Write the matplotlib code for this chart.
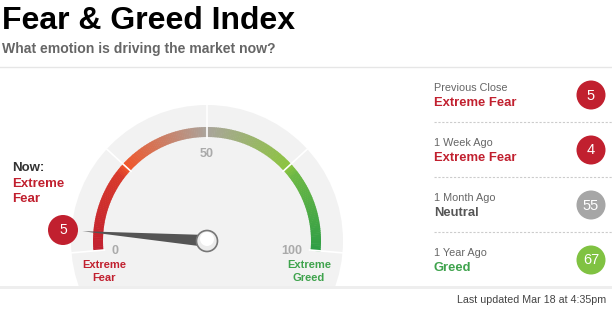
import numpy as np
import matplotlib.pyplot as plt
from matplotlib.patches import Circle, Wedge, Polygon, Rectangle
from matplotlib.colors import LinearSegmentedColormap

plt.rcParams['font.family'] = ['Liberation Sans', 'DejaVu Sans']

# current reading
now_value = 5
now_label = "Extreme\nFear"

# history panel
hist_periods = ["Previous Close", "1 Week Ago", "1 Month Ago", "1 Year Ago"]
hist_labels = ["Extreme Fear", "Extreme Fear", "Neutral", "Greed"]
hist_values = [5, 4, 55, 67]
hist_text_colors = ["#c1202f", "#c1202f", "#555555", "#3fa34d"]
hist_dot_colors = ["#c1202f", "#c1202f", "#a6a6a6", "#80c242"]

gauge_ticks = [0, 50, 100]
updated = "Last updated Mar 18 at 4:35pm"

RED = "#c1202f"
GREEN = "#3fa34d"

fig = plt.figure(figsize=(6.12, 3.13), dpi=100)
ax = fig.add_axes([0, 0, 1, 1])
ax.set_xlim(0, 612)
ax.set_ylim(313, 0)
ax.axis('off')

# header
ax.text(2, 29, "Fear & Greed Index", fontsize=23, fontweight='bold', color='black', va='baseline')
ax.text(2, 53, "What emotion is driving the market now?", fontsize=10.1, fontweight='bold',
        color='#666666', va='baseline')
ax.plot([0, 612], [67, 67], color='#e6e6e6', lw=1)
ax.add_patch(Rectangle((0, 286), 612, 2.5, color='#eeeeee', lw=0))

# gauge geometry (pixel space, y down)
cx, cy = 207, 241
r_bg, r_out, r_in = 136, 114, 104
start_deg, span_deg = 185, 190

def ang(v):
    return np.deg2rad(start_deg - v / 100 * span_deg)

# grey background disc clipped at the footer line
bg = Circle((cx, cy), r_bg, color='#f2f2f2', lw=0)
ax.add_patch(bg)
bg.set_clip_path(Rectangle((0, 0), 612, 286, transform=ax.transData))

# coloured arc
cmap = LinearSegmentedColormap.from_list('fg', [
    (0.0, '#c1202f'), (0.22, '#d83a2c'), (0.25, '#f0562a'),
    (0.5, '#aaa49c'), (0.75, '#8cc43f'), (0.78, '#6db845'), (1.0, '#2f9e45')])
n = 200
for i in range(n):
    v0, v1 = 100 * i / n, 100 * (i + 1) / n
    a0, a1 = np.rad2deg(ang(v0)), np.rad2deg(ang(v1))
    # y axis is inverted, so negate angles
    ax.add_patch(Wedge((cx, cy), r_out, -a0, -a1 + 0.3, width=r_out - r_in,
                       color=cmap((v0 + v1) / 200), lw=0))

# white separators every 25
for v in [0, 25, 50, 75, 100]:
    a = ang(v)
    ax.plot([cx + (r_in - 1) * np.cos(a), cx + (r_bg + 2) * np.cos(a)],
            [cy - (r_in - 1) * np.sin(a), cy - (r_bg + 2) * np.sin(a)],
            color='white', lw=1.2)

# tick numbers
tick_pos = {0: (115, 254), 50: (cx, 157), 100: (292, 254)}
for v in gauge_ticks:
    tx, ty = tick_pos[v]
    ax.text(tx, ty, str(v), fontsize=9, fontweight='bold', color='#aaaaaa',
            ha='center', va='baseline')

ax.text(104, 268, "Extreme", fontsize=8, fontweight='bold', color=RED, ha='center', va='baseline')
ax.text(104, 281, "Fear", fontsize=8, fontweight='bold', color=RED, ha='center', va='baseline')
ax.text(309, 268, "Extreme", fontsize=8, fontweight='bold', color=GREEN, ha='center', va='baseline')
ax.text(309, 281, "Greed", fontsize=8, fontweight='bold', color=GREEN, ha='center', va='baseline')

# needle
a = ang(now_value)
L = 125
tip = (cx + L * np.cos(a), cy - L * np.sin(a))
perp = np.array([np.sin(a), np.cos(a)])
half = 6
base1 = (cx + perp[0] * half, cy + perp[1] * half)
base2 = (cx - perp[0] * half, cy - perp[1] * half)
ax.add_patch(Polygon([tip, base1, base2], closed=True, color='#555555', lw=0))
ax.add_patch(Circle((cx, cy), 10.5, facecolor='#ececec', edgecolor='#777777', lw=1.2))
ax.add_patch(Circle((cx, cy - 2), 7, facecolor='white', edgecolor='none'))

# current value bubble
ax.add_patch(Circle((63, 230), 15, color=RED, lw=0))
ax.text(63, 230.5, str(now_value), fontsize=10, color='white', ha='center', va='center')

# "Now:" label
ax.text(12, 171, "Now:", fontsize=9.5, fontweight='bold', color='#333333', va='baseline')
for j, line in enumerate(now_label.split("\n")):
    ax.text(12, 187 + 15 * j, line, fontsize=9.5, fontweight='bold', color=RED, va='baseline')

# history panel
for i, (p, lab, val, tc, dc) in enumerate(zip(hist_periods, hist_labels, hist_values,
                                               hist_text_colors, hist_dot_colors)):
    y0 = 55 * i
    ax.text(434, 91 + y0, p, fontsize=7.8, color='#666666', va='baseline')
    ax.text(434, 106 + y0, lab, fontsize=9.4, fontweight='bold', color=tc, va='baseline')
    ax.add_patch(Circle((591, 95 + y0), 14.5, color=dc, lw=0))
    ax.text(591, 95.5 + y0, str(val), fontsize=10.5, color='white', ha='center', va='center')
    if i < len(hist_periods) - 1:
        ax.plot([434, 612], [122 + y0, 122 + y0], color='#cccccc', lw=0.8, ls=(0, (2, 1.5)))

ax.text(606, 303, updated, fontsize=7.7, color='#444444', ha='right', va='baseline')

fig.savefig('out.png', dpi=100)
